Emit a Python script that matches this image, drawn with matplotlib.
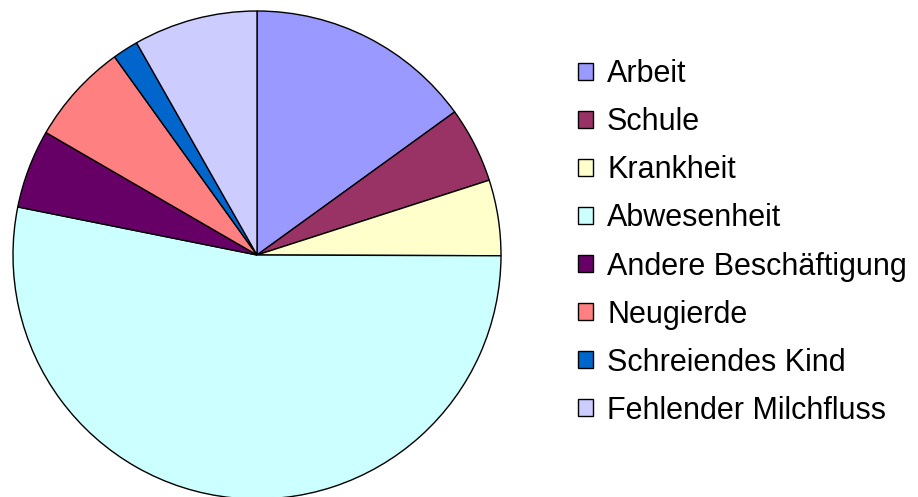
import matplotlib.pyplot as plt
from matplotlib.patches import Patch

labels = ["Arbeit", "Schule", "Krankheit", "Abwesenheit", "Andere Beschäftigung",
          "Neugierde", "Schreiendes Kind", "Fehlender Milchfluss"]
values = [15, 5, 5, 53, 5.2, 6.7, 1.7, 8.2]
colors = ["#9999FF", "#993366", "#FFFFCC", "#CCFFFF", "#660066",
          "#FF8080", "#0066CC", "#CCCCFF"]

plt.rcParams['font.family'] = ['Liberation Sans', 'DejaVu Sans']

fig = plt.figure(figsize=(9.18, 4.97), dpi=100)
# pie box: x 13..501, y 11..499 px (top origin)
ax = fig.add_axes([13 / 918, (497 - 499) / 497, 488 / 918, 488 / 497])
ax.pie(values, colors=colors, startangle=90, counterclock=False,
       wedgeprops=dict(edgecolor="black", linewidth=1))
ax.set_xlim(-1.0, 1.0)
ax.set_ylim(-1.0, 1.0)
ax.set_aspect("equal")
ax.axis("off")

handles = [Patch(facecolor=c, edgecolor="black", linewidth=1) for c in colors]
fig.legend(handles, labels, loc="center left", bbox_to_anchor=(578 / 918, 1 - 242.5 / 497),
           frameon=False, fontsize=22, handlelength=0.5, handleheight=0.5,
           handletextpad=0.45, labelspacing=0.59, borderpad=0, borderaxespad=0)

fig.savefig("out.png", dpi=100)
